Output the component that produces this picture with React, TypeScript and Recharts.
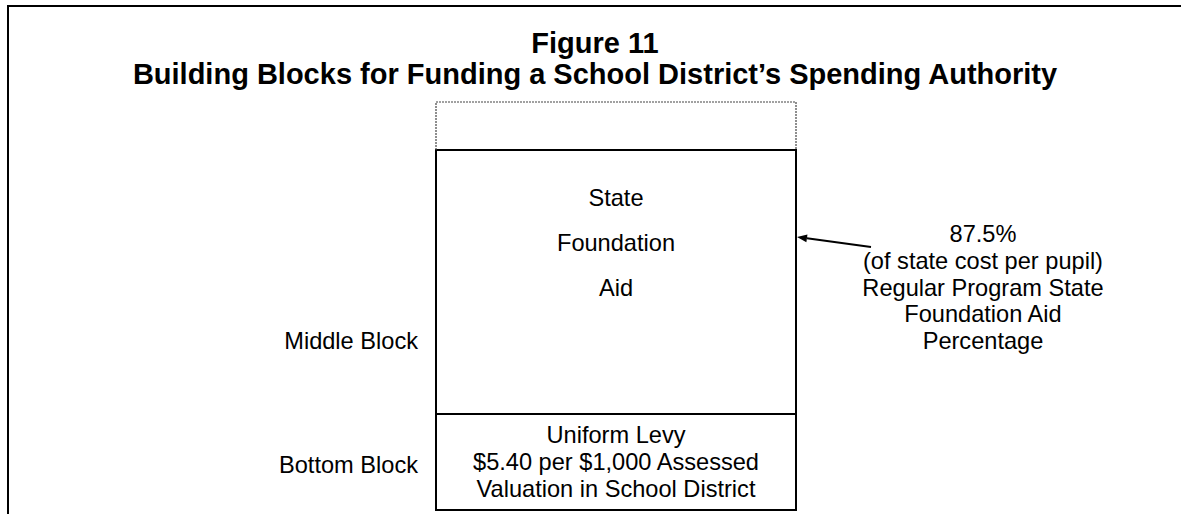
import React from "react";
import { BarChart, Bar, XAxis, YAxis } from "recharts";

// ---- data ----
const categories = ["School District"];
const bottomBlockValues = [20]; // Uniform levy block height
const middleBlockValues = [55]; // State foundation aid block height
const topBlockValues = [10]; // Top block (dotted)
const titleLines = [
  "Figure 11",
  "Building Blocks for Funding a School District\u2019s Spending Authority",
];
const middleInnerLines = ["State", "Foundation", "Aid"];
const bottomInnerLines = [
  "Uniform Levy",
  "$5.40 per $1,000 Assessed",
  "Valuation in School District",
];
const annotationLines = [
  "87.5%",
  "(of state cost per pupil)",
  "Regular Program State",
  "Foundation Aid",
  "Percentage",
];
const blockNames = { bottom: "Bottom Block", middle: "Middle Block" };

const data = categories.map((c, i) => ({
  name: c,
  bottom: bottomBlockValues[i],
  middle: middleBlockValues[i],
  top: topBlockValues[i],
}));

const FONT = "'Liberation Sans', Arial, sans-serif";
const BODY_SIZE = 23.6;

const TopShape = (p: any) => {
  const { x, y, width, height } = p;
  const d = `M${x},${y + height} L${x},${y} L${x + width},${y} L${x + width},${y + height}`;
  return (
    <path d={d} fill="none" stroke="#444" strokeWidth={1.2} strokeDasharray="2 1" />
  );
};

const MiddleShape = (p: any) => {
  const { x, y, width, height } = p;
  const cx = x + width / 2;
  const right = x + width;
  const tipX = right + 1;
  const tipY = y + 87;
  const tailX = right + 75;
  const tailY = y + 97;
  const dx = tipX - tailX;
  const dy = tipY - tailY;
  const len = Math.sqrt(dx * dx + dy * dy);
  const ux = dx / len;
  const uy = dy / len;
  const hl = 10;
  const hw = 4;
  const bx = tipX - ux * hl;
  const by = tipY - uy * hl;
  const p1 = `${bx - uy * hw},${by + ux * hw}`;
  const p2 = `${bx + uy * hw},${by - ux * hw}`;
  return (
    <g>
      <rect x={x} y={y} width={width} height={height} fill="#fff" stroke="#000" strokeWidth={2} />
      {middleInnerLines.map((t, i) => (
        <text key={t} x={cx} y={y + 56 + i * 45} textAnchor="middle" fontFamily={FONT} fontSize={BODY_SIZE} fill="#000">
          {t}
        </text>
      ))}
      <text x={x - 18} y={y + 199} textAnchor="end" fontFamily={FONT} fontSize={BODY_SIZE} fill="#000">
        {blockNames.middle}
      </text>
      <line x1={tailX} y1={tailY} x2={bx} y2={by} stroke="#000" strokeWidth={2} />
      <polygon points={`${tipX},${tipY} ${p1} ${p2}`} fill="#000" />
      {annotationLines.map((t, i) => (
        <text key={t} x={right + 187} y={y + 92 + i * 26.75} textAnchor="middle" fontFamily={FONT} fontSize={BODY_SIZE} fill="#000">
          {t}
        </text>
      ))}
    </g>
  );
};

const BottomShape = (p: any) => {
  const { x, y, width, height } = p;
  const cx = x + width / 2;
  return (
    <g>
      <rect x={x} y={y} width={width} height={height} fill="#fff" stroke="#000" strokeWidth={2} />
      {bottomInnerLines.map((t, i) => (
        <text key={t} x={cx} y={y + 29 + i * 27} textAnchor="middle" fontFamily={FONT} fontSize={BODY_SIZE} fill="#000">
          {t}
        </text>
      ))}
      <text x={x - 18} y={y + 59} textAnchor="end" fontFamily={FONT} fontSize={BODY_SIZE} fill="#000">
        {blockNames.bottom}
      </text>
    </g>
  );
};

export default function App() {
  return (
    <div style={{ position: "absolute", left: 0, top: 0, width: 1181, height: 514, background: "#fff", overflow: "hidden" }}>
      <div
        style={{
          position: "absolute",
          left: 7,
          top: 5,
          width: 1200,
          height: 600,
          borderLeft: "2px solid #000",
          borderTop: "2px solid #000",
        }}
      />
      <div
        style={{
          position: "absolute",
          left: 9,
          top: 28,
          width: 1172,
          textAlign: "center",
          fontFamily: FONT,
          fontWeight: "bold",
          fontSize: 29,
          lineHeight: "31px",
          color: "#000",
        }}
      >
        {titleLines.map((t) => (
          <div key={t}>{t}</div>
        ))}
      </div>
      <div style={{ position: "absolute", left: 0, top: 0 }}>
        <BarChart
          width={1181}
          height={514}
          data={data}
          margin={{ top: 102, right: 385, bottom: 4, left: 436 }}
          barCategoryGap={0}
          barGap={0}
        >
          <XAxis dataKey="name" hide />
          <YAxis hide domain={[0, 85]} />
          <Bar dataKey="bottom" stackId="a" isAnimationActive={false} shape={BottomShape} />
          <Bar dataKey="middle" stackId="a" isAnimationActive={false} shape={MiddleShape} />
          <Bar dataKey="top" stackId="a" isAnimationActive={false} shape={TopShape} />
        </BarChart>
      </div>
    </div>
  );
}
